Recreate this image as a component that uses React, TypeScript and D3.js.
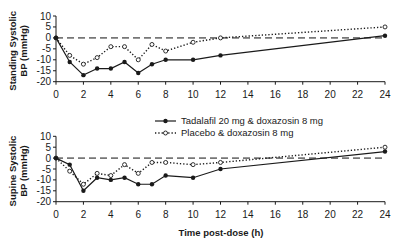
import React from "react";
import * as d3 from "d3";

const hours = [0, 1, 2, 3, 4, 5, 6, 7, 8, 10, 12, 24];
const standingTadalafil = [0, -11, -17, -14, -14, -11, -16, -12, -10, -10, -8, 1];
const standingPlacebo = [0, -8, -12, -9, -4, -4, -10, -3, -6, -2, 0, 5];
const supineTadalafil = [0, -3, -15, -9, -10, -9, -12, -12, -8, -9, -5, 3];
const supinePlacebo = [0, -6, -12, -7, -8, -3, -7, -2, -2, -3, -2, 5];
const xTicks = [0, 2, 4, 6, 8, 10, 12, 14, 16, 18, 20, 22, 24];
const yTicks = [10, 5, 0, -5, -10, -15, -20];
const seriesNames = ["Tadalafil 20 mg & doxazosin 8 mg", "Placebo & doxazosin 8 mg"];
const panelLabels = [["Standing Systolic", "BP (mmHg)"], ["Supine Systolic", "BP (mmHg)"]];
const xTitle = "Time post-dose (h)";

const FONT = "'Liberation Sans', Arial, sans-serif";
const INK = "#1a1a1a";

const x = d3.scaleLinear().domain([0, 24]).range([56, 385]);

function Panel({ top, bottom, tad, pla, labels }: { top: number; bottom: number; tad: number[]; pla: number[]; labels: string[] }) {
  const y = d3.scaleLinear().domain([-20, 10]).range([bottom, top]);
  const line = (vals: number[]) =>
    d3.line<number>().x((_, i) => x(hours[i])).y((v) => y(v))(vals) || "";
  const labelCy = (top + bottom) / 2 + 2;
  return (
    <g>
      <line x1={x(0)} x2={x(24)} y1={y(0)} y2={y(0)} stroke="#777" strokeWidth={1.6} strokeDasharray="7,4" />
      <line x1={x(0)} x2={x(0)} y1={y(10)} y2={y(-20)} stroke={INK} strokeWidth={1} />
      {yTicks.map((t) => (
        <g key={t}>
          <line x1={x(0) - 3} x2={x(0)} y1={y(t)} y2={y(t)} stroke={INK} />
          <text x={x(0) - 5} y={y(t)} dy="0.35em" textAnchor="end" fontSize={10} fontFamily={FONT} fill={INK}>
            {t}
          </text>
        </g>
      ))}
      <line x1={x(0)} x2={x(24)} y1={y(-20)} y2={y(-20)} stroke={INK} strokeWidth={1} />
      {xTicks.map((t) => (
        <g key={t}>
          <line x1={x(t)} x2={x(t)} y1={y(-20)} y2={y(-20) + 3} stroke={INK} />
          <text x={x(t)} y={y(-20) + 13} dy="0.35em" textAnchor="middle" fontSize={10} fontFamily={FONT} fill={INK}>
            {t}
          </text>
        </g>
      ))}
      <path d={line(pla)} fill="none" stroke={INK} strokeWidth={1.4} strokeDasharray="1.3,2" />
      <path d={line(tad)} fill="none" stroke={INK} strokeWidth={1.2} />
      {pla.map((v, i) => (
        <circle key={"p" + i} cx={x(hours[i])} cy={y(v)} r={2} fill="#fff" stroke={INK} strokeWidth={0.9} />
      ))}
      {tad.map((v, i) => (
        <circle key={"t" + i} cx={x(hours[i])} cy={y(v)} r={2.2} fill={INK} />
      ))}
      <text transform={`translate(13,${labelCy}) rotate(-90)`} textAnchor="middle" fontSize={9.5} fontWeight="bold" fontFamily={FONT} fill={INK} dy="0.35em">
        {labels[0]}
      </text>
      <text transform={`translate(24,${labelCy}) rotate(-90)`} textAnchor="middle" fontSize={9.5} fontWeight="bold" fontFamily={FONT} fill={INK} dy="0.35em">
        {labels[1]}
      </text>
    </g>
  );
}

export default function App() {
  return (
    <div style={{ position: "absolute", left: 0, top: 0 }}>
      <svg width={400} height={248} style={{ display: "block", background: "#fff" }}>
        <Panel top={16} bottom={81.7} tad={standingTadalafil} pla={standingPlacebo} labels={panelLabels[0]} />
        <Panel top={136.3} bottom={201.7} tad={supineTadalafil} pla={supinePlacebo} labels={panelLabels[1]} />
        <g>
          <line x1={155} x2={176} y1={121} y2={121} stroke={INK} strokeWidth={1.2} />
          <circle cx={165.5} cy={121} r={2.2} fill={INK} />
          <text x={181} y={121} dy="0.35em" fontSize={9.5} fontFamily={FONT} fill={INK}>{seriesNames[0]}</text>
          <line x1={155} x2={176} y1={133} y2={133} stroke={INK} strokeWidth={1.4} strokeDasharray="1.3,2" />
          <circle cx={165.5} cy={133} r={2} fill="#fff" stroke={INK} strokeWidth={0.9} />
          <text x={181} y={133} dy="0.35em" fontSize={9.5} fontFamily={FONT} fill={INK}>{seriesNames[1]}</text>
        </g>
        <text x={221} y={233} dy="0.35em" textAnchor="middle" fontSize={9.5} fontWeight="bold" fontFamily={FONT} fill={INK}>
          {xTitle}
        </text>
      </svg>
    </div>
  );
}
